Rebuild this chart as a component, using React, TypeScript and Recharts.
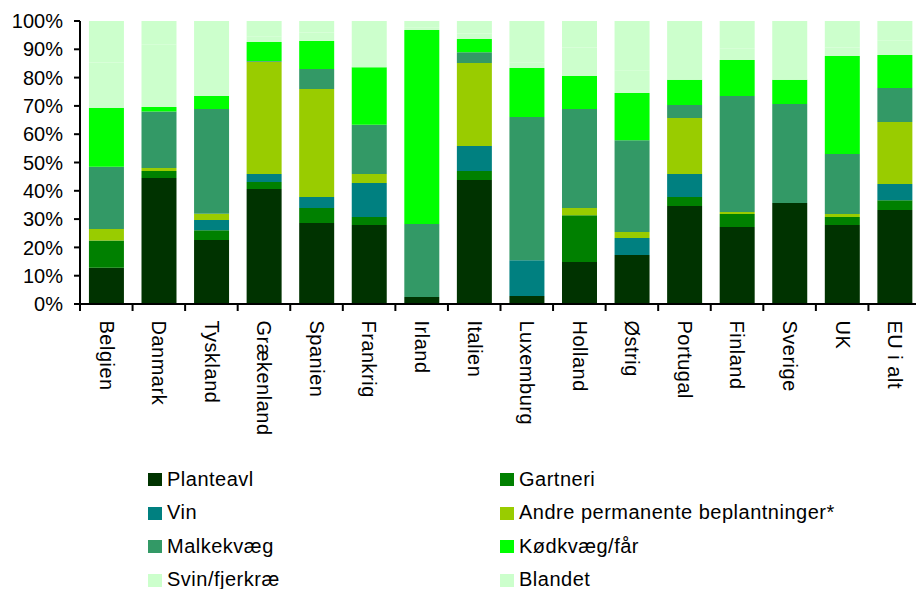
import { BarChart, Bar, XAxis, YAxis } from 'recharts';

const categories = [
  'Belgien', 'Danmark', 'Tyskland', 'Grækenland', 'Spanien', 'Frankrig', 'Irland', 'Italien',
  'Luxemburg', 'Holland', 'Østrig', 'Portugal', 'Finland', 'Sverige', 'UK', 'EU i alt',
];

// shares in % per country
const planteavl = [12.8, 44.5, 22.6, 40.6, 28.6, 27.9, 2.5, 43.8, 2.8, 14.8, 17.3, 34.6, 27.2, 35.7, 27.9, 33.2];
const gartneri = [9.6, 2.5, 3.5, 2.5, 5.3, 2.8, 0, 3.2, 0, 16.6, 0, 3.2, 4.6, 0, 2.8, 3.5];
const vin = [0, 0, 3.6, 2.8, 3.9, 12.1, 0, 8.8, 12.7, 0, 6.0, 8.1, 0, 0, 0, 5.7];
const andre = [4.1, 1.1, 2.2, 39.7, 38.2, 3.1, 0, 29.4, 0, 2.5, 2.1, 19.8, 0.7, 0, 1.1, 21.9];
const malkekvaeg = [22.0, 19.9, 37.0, 0.3, 7.0, 17.4, 25.8, 3.8, 50.6, 35.0, 32.5, 4.6, 41.0, 35.0, 21.2, 12.0];
const koedkvaeg = [20.8, 1.6, 4.6, 6.7, 9.9, 20.4, 68.5, 4.6, 17.3, 11.7, 16.7, 8.9, 12.7, 8.5, 34.6, 11.7];
const svin = [16, 22, 12, 2, 3, 5, 1, 2, 2, 10, 8, 6, 4, 6, 3, 5];
const blandet = [14.7, 8.4, 14.5, 5.4, 4.1, 11.3, 2.2, 4.4, 14.6, 9.4, 17.4, 14.8, 9.8, 14.8, 9.4, 7.0];

const yTicks = [0, 0.1, 0.2, 0.3, 0.4, 0.5, 0.6, 0.7, 0.8, 0.9, 1];

const SERIES = [
  { key: 'Planteavl', values: planteavl, color: '#003300' },
  { key: 'Gartneri', values: gartneri, color: '#008000' },
  { key: 'Vin', values: vin, color: '#008080' },
  { key: 'Andre permanente beplantninger*', values: andre, color: '#99CC00' },
  { key: 'Malkekvæg', values: malkekvaeg, color: '#339966' },
  { key: 'Kødkvæg/får', values: koedkvaeg, color: '#00FF00' },
  { key: 'Svin/fjerkræ', values: svin, color: '#CCFFCC' },
  { key: 'Blandet', values: blandet, color: '#CCFFCC' },
];

const data = categories.map((name, i) => {
  const row: Record<string, string | number> = { name };
  SERIES.forEach((s) => {
    row[s.key] = s.values[i];
  });
  return row;
});

const FONT = '"Liberation Sans", Arial, sans-serif';

// vertical category label plus tick marks on the category boundaries
const CategoryTick = (props: any) => {
  const { x, y, payload, index, width, visibleTicksCount } = props;
  const half = width / visibleTicksCount / 2;
  const isLast = index === visibleTicksCount - 1;
  return (
    <g>
      <line x1={x - half} y1={y} x2={x - half} y2={y + 7} stroke="#000" strokeWidth={2} />
      {isLast && <line x1={x + half} y1={y} x2={x + half} y2={y + 7} stroke="#000" strokeWidth={2} />}
      <text
        transform={`translate(${x},${y + 16.5}) rotate(90)`}
        x={0}
        y={6.6}
        fontSize={20}
        fontFamily={FONT}
        letterSpacing={0.5}
        fill="#000"
        textAnchor="start"
      >
        {payload.value}
      </text>
    </g>
  );
};

const legendRows = [0, 1, 2, 3];

export default function App() {
  return (
    <div
      style={{
        position: 'absolute',
        left: 0,
        top: 0,
        width: 916,
        height: 589,
        overflow: 'hidden',
        background: '#fff',
        fontFamily: FONT,
      }}
    >
      <BarChart
        width={930}
        height={589}
        data={data}
        stackOffset="expand"
        barCategoryGap="17%"
        margin={{ top: 21, right: 9, left: 0, bottom: 255 }}
      >
        <XAxis
          dataKey="name"
          interval={0}
          height={30}
          tickSize={0}
          tickMargin={0}
          tickLine={false}
          axisLine={{ stroke: '#000', strokeWidth: 2 }}
          tick={CategoryTick}
        />
        <YAxis
          width={80}
          ticks={yTicks}
          domain={[0, 1]}
          interval={0}
          tickFormatter={(v: number) => `${Math.round(v * 100)}%`}
          tick={{ fontSize: 20, fill: '#000', fontFamily: FONT }}
          tickSize={6}
          tickMargin={11}
          tickLine={{ stroke: '#000', strokeWidth: 2 }}
          axisLine={{ stroke: '#000', strokeWidth: 2 }}
        />
        {SERIES.map((s) => (
          <Bar key={s.key} dataKey={s.key} stackId="a" fill={s.color} isAnimationActive={false} />
        ))}
      </BarChart>

      {legendRows.map((r) =>
        [0, 1].map((c) => {
          const s = SERIES[r * 2 + c];
          const left = c === 0 ? 148 : 500;
          const top = 473 + r * 33.6;
          return (
            <div key={s.key}>
              <div
                style={{
                  position: 'absolute',
                  left,
                  top,
                  width: 14,
                  height: 13,
                  background: s.color,
                }}
              />
              <div
                style={{
                  position: 'absolute',
                  left: left + 19,
                  top: top - 4.5,
                  fontSize: 20,
                  lineHeight: '20px',
                  letterSpacing: 0.5,
                  color: '#000',
                  whiteSpace: 'nowrap',
                }}
              >
                {s.key}
              </div>
            </div>
          );
        }),
      )}
    </div>
  );
}
